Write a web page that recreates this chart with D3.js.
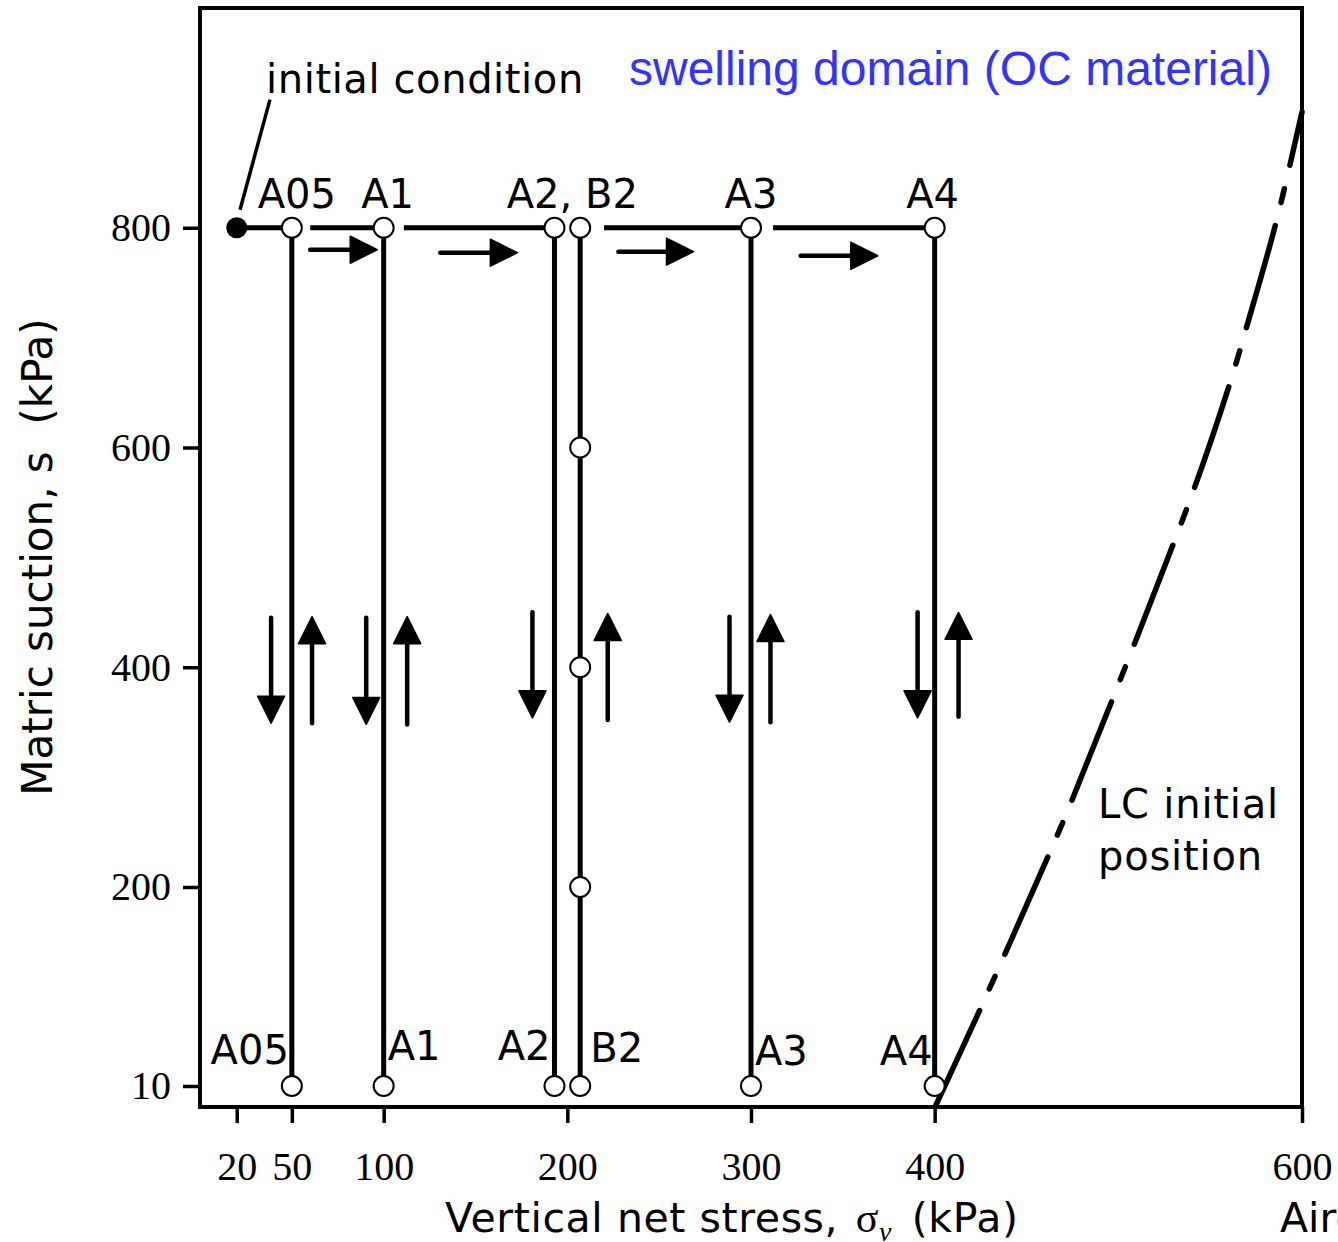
<!DOCTYPE html>
<html><head><meta charset="utf-8">
<script src="https://cdn.jsdelivr.net/npm/d3@7"></script>
<style>
html,body{margin:0;padding:0;background:#fff;overflow:hidden;}
svg{display:block;}
</style></head>
<body>
<svg id="chart" width="1338" height="1242"></svg>
<script>
// ---------- data ----------
const stressTicks = [20, 50, 100, 200, 300, 400, 600];
const suctionTicks = [10, 200, 400, 600, 800];
const specimenNames = ["A05", "A1", "A2", "B2", "A3", "A4"];
const specimenStress = [50, 100, 193, 207, 300, 400];
const suctionStart = 800;
const suctionEnd = 10;
const initialStress = 20;
const initialSuction = 800;
const b2ExtraSuction = [600, 400, 200];
// loading path at s = 800 (segments from -> to)
const loadFrom = [20, 60, 111, 220, 312];
const loadTo   = [50, 100, 193, 300, 400];
// loading arrows (stress from -> to, at suction)
const loadArrowFrom = [60, 130.8, 227.8, 327];
const loadArrowTo   = [96.5, 172.8, 268.7, 369];
const loadArrowSuction = [780, 777.3, 778.2, 774.5];
// wetting (down) arrows
const wetStress = [38.7, 90.5, 181, 288.3, 390.7];
const wetFrom = [445, 445, 450, 446, 450];
const wetTo   = [349, 348, 354, 350, 354];
// drying (up) arrows
const dryStress = [61, 112.8, 222, 310.6, 413];
const dryFrom = [349, 348, 352, 350, 355];
const dryTo   = [446, 446, 449, 448, 450];
// LC initial position curve
const lcStress  = [400.2, 425.8, 462.8, 474.8, 541.2, 560.8, 569.5, 585.8, 600];
const lcSuction = [0, 87.3, 231.9, 279.2, 562.2, 658.7, 707.8, 804.3, 905.3];
// pointer of "initial condition"
const pointerStress = [21.8, 38.1];
const pointerSuction = [816.4, 916.6];
// labels
const topLabels = ["A05", "A1", "A2, B2", "A3", "A4"];
const topLabelStress = [50, 100, 200, 300, 400];

// ---------- layout ----------
const svg = d3.select("#chart");
const L = 200, R = 1302, T = 8, B = 1107;
const x = d3.scaleLinear().domain([0, 600]).range([L, R]);
const y = d3.scaleLinear().domain([0, 10, 200, 1000]).range([B, 1086, 887, T]);

const sans = "'DejaVu Sans', Verdana, sans-serif";
const serif = "'Liberation Serif', 'Times New Roman', serif";

// Frame
svg.append("rect").attr("x", L).attr("y", T).attr("width", R - L).attr("height", B - T)
  .attr("fill", "none").attr("stroke", "#000").attr("stroke-width", 4);

// Axes
const xAxis = d3.axisBottom(x).tickValues(stressTicks).tickSize(16).tickPadding(29).tickFormat(d3.format("d"));
const gx = svg.append("g").attr("transform", `translate(0,${B})`).call(xAxis);
gx.select(".domain").remove();
gx.selectAll(".tick line").attr("stroke", "#000").attr("stroke-width", 3.5);
gx.selectAll(".tick text").attr("font-family", serif).attr("font-size", 40).attr("fill", "#000");

const yAxis = d3.axisLeft(y).tickValues(suctionTicks).tickSize(17).tickPadding(12).tickFormat(d3.format("d"));
const gy = svg.append("g").attr("transform", `translate(${L},0)`).call(yAxis);
gy.select(".domain").remove();
gy.selectAll(".tick line").attr("stroke", "#000").attr("stroke-width", 3.5);
gy.selectAll(".tick text").attr("font-family", serif).attr("font-size", 40).attr("fill", "#000");

// Axis titles
const xt = svg.append("text").attr("x", 445).attr("y", 1232)
  .attr("font-family", sans).attr("font-size", 41).attr("letter-spacing", 0.6).attr("fill", "#000");
xt.append("tspan").text("Vertical net stress, ");
xt.append("tspan").attr("font-family", serif).attr("font-size", 42).attr("dx", 4).text("σ");
xt.append("tspan").attr("font-family", serif).attr("font-style", "italic").attr("font-size", 28).attr("dy", 9).text("v");
xt.append("tspan").attr("dy", -9).attr("dx", 6).text(" (kPa)");

svg.append("text").attr("transform", "translate(52,557) rotate(-90)")
  .attr("text-anchor", "middle").attr("font-family", sans).attr("font-size", 42)
  .attr("fill", "#000").attr("xml:space", "preserve").style("white-space", "pre")
  .text("Matric suction, s  (kPa)");

svg.append("text").attr("x", 1280).attr("y", 1232).attr("font-family", sans)
  .attr("font-size", 41).attr("fill", "#000").text("Aire");

// LC curve
const lcLine = d3.line().x(d => x(d[0])).y(d => y(d[1])).curve(d3.curveCatmullRom.alpha(0.5));
svg.append("path").datum(lcStress.map((s, i) => [s, lcSuction[i]]))
  .attr("d", lcLine).attr("fill", "none").attr("stroke", "#000")
  .attr("stroke-width", 5.5).attr("stroke-linecap", "round")
  .attr("stroke-dasharray", "106,24,14,24");

// Vertical wetting/drying paths
svg.append("g").selectAll("line").data(specimenStress).join("line")
  .attr("x1", d => x(d)).attr("x2", d => x(d))
  .attr("y1", y(suctionStart)).attr("y2", y(suctionEnd))
  .attr("stroke", "#000").attr("stroke-width", 5);

// loading path at s=800
svg.append("g").selectAll("line").data(loadFrom).join("line")
  .attr("x1", d => x(d)).attr("x2", (d, i) => x(loadTo[i]))
  .attr("y1", y(initialSuction)).attr("y2", y(initialSuction))
  .attr("stroke", "#000").attr("stroke-width", 5);

// initial condition pointer
svg.append("line").attr("x1", x(pointerStress[0])).attr("y1", y(pointerSuction[0]))
  .attr("x2", x(pointerStress[1])).attr("y2", y(pointerSuction[1]))
  .attr("stroke", "#000").attr("stroke-width", 3.5);

// arrows helper
function arrow(g, x1, y1, x2, y2) {
  const head = 27, hw = 13.5;
  const dx = x2 - x1, dy = y2 - y1, len = Math.hypot(dx, dy);
  const ux = dx / len, uy = dy / len;
  const bx = x2 - ux * head, by = y2 - uy * head;
  g.append("line").attr("x1", x1).attr("y1", y1).attr("x2", bx + ux * 2).attr("y2", by + uy * 2)
    .attr("stroke", "#000").attr("stroke-width", 4.5).attr("stroke-linecap", "round");
  g.append("path").attr("d", `M${x2},${y2}L${bx - uy * hw},${by + ux * hw}L${bx + uy * hw},${by - ux * hw}Z`)
    .attr("fill", "#000").attr("stroke", "#000").attr("stroke-width", 1.5).attr("stroke-linejoin", "round");
}
const ga = svg.append("g");
loadArrowFrom.forEach((s, i) => arrow(ga, x(s), y(loadArrowSuction[i]), x(loadArrowTo[i]), y(loadArrowSuction[i])));
wetStress.forEach((s, i) => arrow(ga, x(s), y(wetFrom[i]), x(s), y(wetTo[i])));
dryStress.forEach((s, i) => arrow(ga, x(s), y(dryFrom[i]), x(s), y(dryTo[i])));

// circles
const circ = svg.append("g");
const openPts = [];
specimenStress.forEach(s => { openPts.push([s, suctionStart]); openPts.push([s, suctionEnd]); });
b2ExtraSuction.forEach(v => openPts.push([specimenStress[3], v]));
circ.selectAll("circle.o").data(openPts).join("circle").attr("class", "o")
  .attr("cx", d => x(d[0])).attr("cy", d => y(d[1])).attr("r", 10)
  .attr("fill", "#fff").attr("stroke", "#000").attr("stroke-width", 2);
circ.append("circle").attr("cx", x(initialStress)).attr("cy", y(initialSuction)).attr("r", 10.5)
  .attr("fill", "#000");

// labels
const lab = svg.append("g").attr("font-family", sans).attr("font-size", 40).attr("fill", "#000");
const topDx = [5, 4, 5, 0, -2];
lab.selectAll("text.top").data(topLabels).join("text").attr("class", "top")
  .attr("x", (d, i) => x(topLabelStress[i]) + topDx[i]).attr("y", 208)
  .attr("text-anchor", "middle").text(d => d);
const botAnchor = ["end", "start", "end", "start", "start", "end"];
const botDx = [-3, 4, -4, 10, 4, -2];
const botY = [1064, 1060, 1060, 1062, 1065, 1065];
lab.selectAll("text.bot").data(specimenNames).join("text").attr("class", "bot")
  .attr("x", (d, i) => x(specimenStress[i]) + botDx[i]).attr("y", (d, i) => botY[i])
  .attr("text-anchor", (d, i) => botAnchor[i]).text(d => d);

lab.append("text").attr("x", 266).attr("y", 93).attr("letter-spacing", 0.6).text("initial condition");
lab.append("text").attr("x", 1098).attr("y", 818).attr("letter-spacing", 0.8).text("LC initial");
lab.append("text").attr("x", 1098).attr("y", 870).attr("letter-spacing", 0.8).text("position");

svg.append("text").attr("x", 629).attr("y", 85).attr("font-family", "'Liberation Sans', Arial, sans-serif")
  .attr("font-size", 48).attr("fill", "#3333ff").text("swelling domain (OC material)");
</script>
</body></html>
